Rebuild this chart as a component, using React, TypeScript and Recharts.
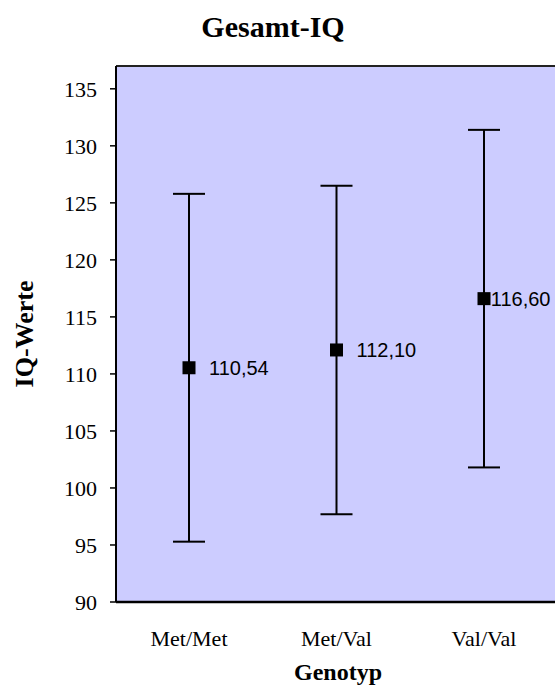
import React from 'react'
import {
  ComposedChart,
  Scatter,
  ErrorBar,
  XAxis,
  YAxis,
  CartesianGrid,
  ReferenceLine,
} from 'recharts'

const W = 555
const H = 690

// Genotype groups, mean IQ and standard deviation
const genotypes = ['Met/Met', 'Met/Val', 'Val/Val']
const means = [110.54, 112.1, 116.6]
const sds = [15.25, 14.4, 14.8]
const yTicks = [90, 95, 100, 105, 110, 115, 120, 125, 130, 135]

const data = genotypes.map((g, i) => ({ genotype: g, mean: means[i], sd: sds[i] }))

const SERIF = '"Liberation Serif", "Times New Roman", serif'
const SANS = '"Liberation Sans", Arial, sans-serif'
const LABEL_SIZE = 20

const fmt = (v: number) => v.toFixed(2).replace('.', ',')

function MeanMarker(props: any) {
  const { cx, cy, payload } = props
  const s = 13
  const text = fmt(payload.mean)
  // keep the value label inside the chart on the right edge
  const textW = text.length * 0.51 * LABEL_SIZE
  const lx = Math.min(cx + 20, W - 3 - textW)
  return (
    <g>
      <rect x={cx - s / 2} y={cy - s / 2} width={s} height={s} fill="#000" />
      <text
        x={lx}
        y={cy}
        dy="0.36em"
        fontFamily={SANS}
        fontSize={LABEL_SIZE}
        fill="#000"
      >
        {text}
      </text>
    </g>
  )
}

export default function App() {
  return (
    <div style={{ position: 'absolute', left: 0, top: 0, width: W, height: H, background: '#fff' }}>
      <ComposedChart
        width={W}
        height={H}
        data={data}
        margin={{ top: 66, right: -3, bottom: 0, left: 0 }}
      >
        <CartesianGrid fill="#CCCCFF" horizontal={false} vertical={false} stroke="none" />
        <XAxis
          dataKey="genotype"
          type="category"
          height={88}
          padding={{ left: 73, right: 74 }}
          axisLine={{ stroke: '#000', strokeWidth: 2.5 }}
          tickLine={false}
          tickMargin={22}
          tick={{ fill: '#000', fontFamily: SERIF, fontSize: 22 }}
        />
        <YAxis
          type="number"
          domain={[90, 137]}
          ticks={yTicks}
          width={116}
          allowDataOverflow
          axisLine={{ stroke: '#000', strokeWidth: 2 }}
          tickLine={{ stroke: '#000', strokeWidth: 1.5 }}
          tickSize={6}
          tickMargin={13}
          tick={{ fill: '#000', fontFamily: SERIF, fontSize: 22 }}
        />
        <ReferenceLine y={137} stroke="#222" strokeWidth={2} />
        <Scatter dataKey="mean" shape={<MeanMarker />} isAnimationActive={false}>
          <ErrorBar dataKey="sd" direction="y" width={16} stroke="#000" strokeWidth={2} />
        </Scatter>
      </ComposedChart>
      <svg
        width={W}
        height={H}
        style={{ position: 'absolute', left: 0, top: 0, pointerEvents: 'none' }}
      >
        <text x={273} y={37} textAnchor="middle" fontFamily={SERIF} fontWeight="bold" fontSize={30}>
          Gesamt-IQ
        </text>
        <text
          x={33}
          y={334}
          textAnchor="middle"
          fontFamily={SERIF}
          fontWeight="bold"
          fontSize={26}
          transform="rotate(-90 33 334)"
        >
          IQ-Werte
        </text>
        <text x={338} y={680} textAnchor="middle" fontFamily={SERIF} fontWeight="bold" fontSize={24}>
          Genotyp
        </text>
      </svg>
    </div>
  )
}
